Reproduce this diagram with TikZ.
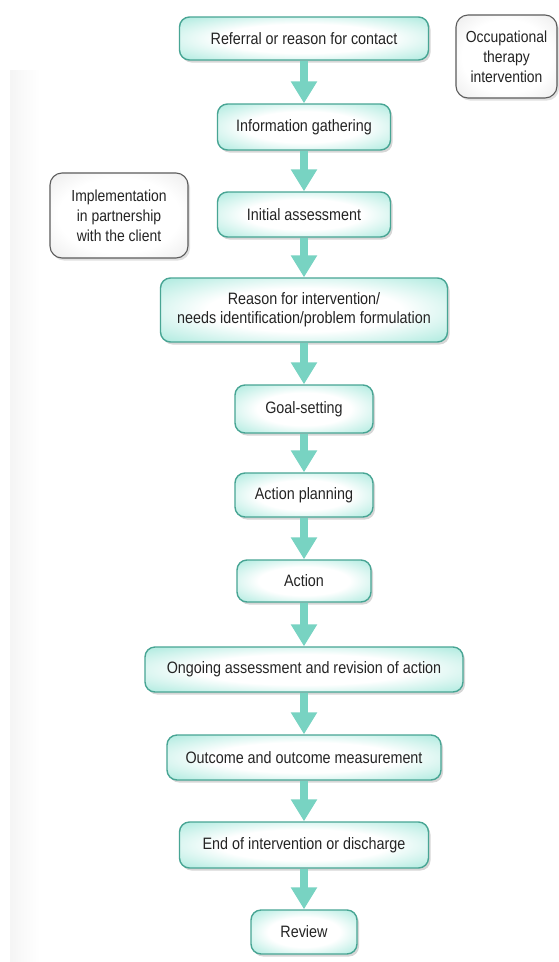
\documentclass[tikz,border=0pt]{standalone}
\usepackage{fontspec}
\setmainfont{Liberation Sans}[FakeStretch=0.87]
\usetikzlibrary{arrows.meta,shadows}
\definecolor{tealline}{HTML}{48A594}
\definecolor{tealglow}{HTML}{B8EDE3}
\definecolor{tealarrow}{HTML}{78D3C2}
\definecolor{inkgray}{HTML}{242424}
\definecolor{sideline}{HTML}{5C5C5C}
\definecolor{sideglow}{HTML}{EDEDED}
% white centre fading into a tinted rim
\pgfdeclareradialshading{stageglow}{\pgfpoint{0bp}{0bp}}{%
  color(0bp)=(white); color(17bp)=(white); color(33bp)=(tealglow);
  color(50bp)=(tealglow)}
\pgfdeclareradialshading{noteglow}{\pgfpoint{0bp}{0bp}}{%
  color(0bp)=(white); color(22bp)=(white); color(35bp)=(sideglow);
  color(50bp)=(sideglow)}
\begin{document}
\begin{tikzpicture}[x=1pt,y=-1pt,
  stage/.style={draw=tealline, line width=1.4pt, rounded corners=10pt,
    shading=stageglow,
    drop shadow={shadow xshift=2pt, shadow yshift=-2.5pt, opacity=0.16, fill=black},
    text=inkgray, font=\fontsize{16.5}{19}\selectfont, align=center, inner sep=0pt},
  note/.style={draw=sideline, line width=1.1pt, rounded corners=12pt,
    shading=noteglow,
    drop shadow={shadow xshift=2pt, shadow yshift=-2.5pt, opacity=0.12, fill=black},
    text=inkgray, font=\fontsize{16}{20}\selectfont, align=center, inner sep=0pt},
  flow/.style={draw=tealarrow, line width=8pt,
    -{Triangle[width=25pt,length=22pt]}}
]
% page area and the faint gutter shade on the left
\useasboundingbox (0,0) rectangle (559,962);
\fill[white] (0,0) rectangle (559,962);
\shade[left color=black!4, right color=white] (10,70) rectangle (40,962);

% side notes
\node[note, minimum width=101pt, minimum height=83pt] (occ) at (506.5,56.5)
  {Occupational\\therapy\\intervention};
\node[note, minimum width=138pt, minimum height=85pt] (impl) at (119,215.5)
  {Implementation\\in partnership\\with the client};

% process stages
\node[stage, minimum width=249pt, minimum height=43pt] (ref)   at (304,38.5)  {Referral or reason for contact};
\node[stage, minimum width=173pt, minimum height=46pt] (info)  at (304,127)   {Information gathering};
\node[stage, minimum width=173pt, minimum height=45pt] (init)  at (304,214.5) {Initial assessment};
\node[stage, minimum width=287pt, minimum height=64pt] (reas)  at (304,310)   {Reason for intervention/\\needs identification/problem formulation};
\node[stage, minimum width=138pt, minimum height=48pt] (goal)  at (304,409)   {Goal-setting};
\node[stage, minimum width=138pt, minimum height=44pt] (plan)  at (304,495)   {Action planning};
\node[stage, minimum width=134pt, minimum height=42pt] (act)   at (304,581)   {Action};
\node[stage, minimum width=318pt, minimum height=45pt] (ongo)  at (304,669.5) {Ongoing assessment and revision of action};
\node[stage, minimum width=274pt, minimum height=45pt] (outc)  at (304,757.5) {Outcome and outcome measurement};
\node[stage, minimum width=249pt, minimum height=46pt] (endi)  at (304,845)   {End of intervention or discharge};
\node[stage, minimum width=106pt, minimum height=44pt] (rev)   at (304,932)   {Review};

% connecting block arrows
\draw[flow] (ref.south)  -- (info.north);
\draw[flow] (info.south) -- (init.north);
\draw[flow] (init.south) -- (reas.north);
\draw[flow] (reas.south) -- (goal.north);
\draw[flow] (goal.south) -- (plan.north);
\draw[flow] (plan.south) -- (act.north);
\draw[flow] (act.south)  -- (ongo.north);
\draw[flow] (ongo.south) -- (outc.north);
\draw[flow] (outc.south) -- (endi.north);
\draw[flow] (endi.south) -- (rev.north);
\end{tikzpicture}
\end{document}
